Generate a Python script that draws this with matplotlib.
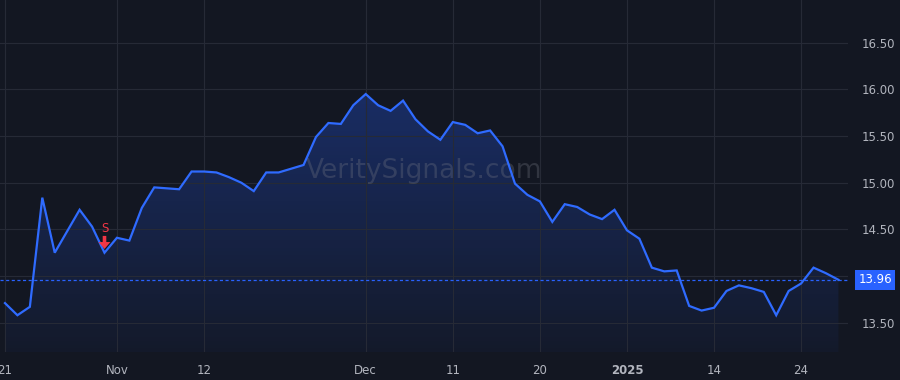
import matplotlib
matplotlib.use("Agg")
import matplotlib.pyplot as plt
import numpy as np
from matplotlib.colors import LinearSegmentedColormap

# trading-day closes, Oct 21 2024 .. Jan 29 2025
prices = [13.71, 13.58, 13.67, 14.84, 14.25, 14.48, 14.71, 14.53, 14.25, 14.41,
          14.38, 14.73, 14.95, 14.94, 14.93, 15.12, 15.12, 15.11, 15.06, 15.00,
          14.91, 15.11, 15.11, 15.15, 15.19, 15.49, 15.64, 15.63, 15.83, 15.95,
          15.83, 15.77, 15.88, 15.68, 15.55, 15.46, 15.65, 15.62, 15.53, 15.56,
          15.39, 14.99, 14.87, 14.80, 14.58, 14.77, 14.74, 14.66, 14.61, 14.71,
          14.49, 14.40, 14.09, 14.05, 14.06, 13.68, 13.63, 13.66, 13.84, 13.90,
          13.87, 13.83, 13.58, 13.84, 13.92, 14.09, 14.03, 13.96]
tick_idx = [0, 9, 16, 29, 36, 43, 50, 57, 64]
tick_labels = ["21", "Nov", "12", "Dec", "11", "20", "2025", "14", "24"]
price_ticks = [13.50, 14.00, 14.50, 15.00, 15.50, 16.00, 16.50]
signal_idx = 8
last_price = prices[-1]

BG = "#131722"
GRID = "#262a36"
TXT = "#b2b5be"
BLUE = "#2962ff"
LINE = "#2f6bff"
RED = "#f23645"

x = np.arange(len(prices))
y = np.array(prices)

fig = plt.figure(figsize=(9, 3.8), dpi=100, facecolor=BG)
ax = fig.add_axes([0, 28 / 380, 848 / 900, 352 / 380])
ax.set_facecolor(BG)

ymin, ymax = 13.186, 16.958
ax.set_xlim(-0.4, 67.77)
ax.set_ylim(ymin, ymax)

# gradient fill under the line
cmap = LinearSegmentedColormap.from_list(
    "fade", [(0.16, 0.38, 1.0, 0.04), (0.16, 0.38, 1.0, 0.30)])
grad = np.linspace(0, 1, 256).reshape(-1, 1)
img = ax.imshow(grad, cmap=cmap, aspect="auto", origin="lower",
                extent=[x[0], x[-1], ymin, y.max()], zorder=1)
poly = ax.fill_between(x, y, ymin, color="none", lw=0)
img.set_clip_path(poly.get_paths()[0], transform=ax.transData)

ax.plot(x, y, color=LINE, lw=1.6, zorder=3, solid_joinstyle="miter")

# last price line and tag
ax.axhline(last_price, color=BLUE, lw=0.9, ls=(0, (2.5, 2)), zorder=2)
ax.text(1.012, last_price, f"{last_price:.2f}", transform=ax.get_yaxis_transform(),
        ha="left", va="center", color="white", fontsize=8.5, zorder=5,
        bbox=dict(boxstyle="square,pad=0.28", fc=BLUE, ec="none"), clip_on=False)

# sell signal marker
sig_y = prices[signal_idx]
ax.annotate("", xy=(signal_idx, sig_y + 0.04), xytext=(signal_idx, sig_y + 0.18),
            arrowprops=dict(width=2.6, headwidth=8.5, headlength=5, color=RED, lw=0),
            zorder=4)
ax.text(signal_idx, sig_y + 0.19, "S", color=RED, fontsize=8.5,
        ha="center", va="bottom", zorder=4)

# watermark
ax.text(0.5, 0.515, "VeritySignals.com", transform=ax.transAxes, ha="center",
        va="center", fontsize=19, color="#787b86", alpha=0.3, zorder=2)

ax.set_xticks(tick_idx)
ax.set_xticklabels(tick_labels)
for lbl in ax.get_xticklabels():
    if lbl.get_text() == "2025":
        lbl.set_fontweight("bold")
ax.set_yticks(price_ticks)
# 14.00 label sits under the last-price tag
ax.set_yticklabels(["" if p == 14.00 else f"{p:.2f}" for p in price_ticks])
ax.yaxis.tick_right()
ax.tick_params(axis="both", length=0, colors=TXT, labelsize=8.5)
ax.tick_params(axis="x", pad=9)
ax.tick_params(axis="y", pad=10)
ax.grid(True, color=GRID, lw=0.8, zorder=0)
for s in ax.spines.values():
    s.set_visible(False)

fig.savefig("out.png", dpi=100, facecolor=BG)
